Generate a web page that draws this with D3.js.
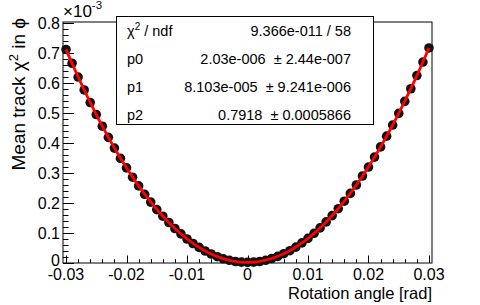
<!DOCTYPE html>
<html>
<head>
<meta charset="utf-8">
<script src="https://cdn.jsdelivr.net/npm/d3@7"></script>
<style>
  body { margin: 0; background: #fff; }
  svg text { font-family: "Liberation Sans", Arial, Helvetica, sans-serif; fill: #000; }
</style>
</head>
<body>
<div id="chart"></div>
<script>
"use strict"

// Mean track chi2 vs rotation angle, with quadratic fit (ROOT style)

var angles = [
  -0.030, -0.029, -0.028, -0.027, -0.026, -0.025, -0.024, -0.023, -0.022, -0.021,
  -0.020, -0.019, -0.018, -0.017, -0.016, -0.015, -0.014, -0.013, -0.012, -0.011,
  -0.010, -0.009, -0.008, -0.007, -0.006, -0.005, -0.004, -0.003, -0.002, -0.001,
  0.000, 0.001, 0.002, 0.003, 0.004, 0.005, 0.006, 0.007, 0.008, 0.009,
  0.010, 0.011, 0.012, 0.013, 0.014, 0.015, 0.016, 0.017, 0.018, 0.019,
  0.020, 0.021, 0.022, 0.023, 0.024, 0.025, 0.026, 0.027, 0.028, 0.029, 0.030
]

// mean chi2, in units of 1e-3
var meanChi2 = [
  0.712, 0.666, 0.620, 0.577, 0.535, 0.495, 0.456, 0.419, 0.383, 0.349,
  0.317, 0.286, 0.257, 0.229, 0.203, 0.178, 0.156, 0.135, 0.115, 0.097,
  0.080, 0.065, 0.052, 0.040, 0.030, 0.021, 0.014, 0.009, 0.005, 0.003,
  0.002, 0.003, 0.005, 0.009, 0.015, 0.022, 0.031, 0.041, 0.053, 0.067,
  0.082, 0.099, 0.117, 0.137, 0.158, 0.181, 0.206, 0.232, 0.260, 0.290,
  0.320, 0.353, 0.387, 0.423, 0.460, 0.499, 0.539, 0.581, 0.625, 0.670, 0.717
]

var xTicks = [-0.03, -0.02, -0.01, 0, 0.01, 0.02, 0.03]
var xTickLabels = ["-0.03", "-0.02", "-0.01", "0", "0.01", "0.02", "0.03"]
var yTicks = [0, 0.1, 0.2, 0.3, 0.4, 0.5, 0.6, 0.7, 0.8]
var yTickLabels = ["0", "0.1", "0.2", "0.3", "0.4", "0.5", "0.6", "0.7", "0.8"]

// fit parameters (y = p0 + p1*x + p2*x^2)
var fitParams = [2.03e-6, 8.103e-5, 0.7918]
var statNames = ["p0", "p1", "p2"]
var statValues = [
  "9.366e-011 / 58",
  "2.03e-006  \u00b1 2.44e-007",
  "8.103e-005  \u00b1 9.241e-006",
  "0.7918  \u00b1 0.0005866"
]

var width = 480
var height = 305
var frame = { left: 63, right: 432, top: 22, bottom: 263 }

var svg = d3.select("#chart").append("svg")
  .attr("width", width)
  .attr("height", height)

var x = d3.scaleLinear()
  .domain([-0.0305, 0.0305])
  .range([frame.left, frame.right])

var y = d3.scaleLinear()
  .domain([0, 0.8035])
  .range([frame.bottom, frame.top])

// frame
svg.append("rect")
  .attr("x", frame.left)
  .attr("y", frame.top)
  .attr("width", frame.right - frame.left)
  .attr("height", frame.bottom - frame.top)
  .attr("fill", "none")
  .attr("stroke", "#000")
  .attr("stroke-width", 1)

// x axis ticks (inward, upward)
var xMinor = d3.range(-15, 16).map(function(i) { return i * 0.002 })
svg.append("g").selectAll("line")
  .data(xMinor)
  .enter().append("line")
    .attr("x1", function(d) { return Math.round(x(d)) + 0.5 })
    .attr("x2", function(d) { return Math.round(x(d)) + 0.5 })
    .attr("y1", frame.bottom)
    .attr("y2", function(d, i) { return frame.bottom - (i % 5 === 0 ? 7.5 : 3.8) })
    .attr("stroke", "#000")

svg.append("g").selectAll("text")
  .data(xTicks)
  .enter().append("text")
    .attr("x", function(d) { return x(d) })
    .attr("y", 280)
    .attr("text-anchor", "middle")
    .style("font-size", "16px")
    .text(function(d, i) { return xTickLabels[i] })

// y axis ticks (inward, rightward)
var yMinor = d3.range(0, 41).map(function(i) { return i * 0.02 })
svg.append("g").selectAll("line")
  .data(yMinor)
  .enter().append("line")
    .attr("y1", function(d) { return Math.round(y(d)) + 0.5 })
    .attr("y2", function(d) { return Math.round(y(d)) + 0.5 })
    .attr("x1", frame.left)
    .attr("x2", function(d, i) { return frame.left + (i % 5 === 0 ? 11 : 5.5) })
    .attr("stroke", "#000")

svg.append("g").selectAll("text")
  .data(yTicks)
  .enter().append("text")
    .attr("x", 60)
    .attr("y", function(d) { return y(d) - (d === 0 ? 3 : 0) })
    .attr("dy", "0.36em")
    .attr("text-anchor", "end")
    .style("font-size", "16px")
    .text(function(d, i) { return yTickLabels[i] })

// exponent label
var expo = svg.append("text")
  .attr("x", 63)
  .attr("y", 17)
  .style("font-size", "17px")
expo.append("tspan").text("\u00d710")
expo.append("tspan")
  .attr("dy", -8)
  .style("font-size", "11.5px")
  .text("-3")

// axis titles
svg.append("text")
  .attr("x", frame.right)
  .attr("y", 299)
  .attr("text-anchor", "end")
  .style("font-size", "16.5px")
  .text("Rotation angle [rad]")

var ytitle = svg.append("text")
  .attr("transform", "translate(25," + 18 + ") rotate(-90)")
  .attr("text-anchor", "end")
  .style("font-size", "19px")
ytitle.append("tspan").text("Mean track \u03c7")
ytitle.append("tspan")
  .attr("dy", -7)
  .style("font-size", "13px")
  .text("2")
ytitle.append("tspan")
  .attr("dy", 7)
  .text(" in \u03d5")

// data points
svg.append("g").selectAll("circle")
  .data(angles)
  .enter().append("circle")
    .attr("cx", function(d) { return x(d) })
    .attr("cy", function(d, i) { return y(meanChi2[i]) })
    .attr("r", 4.8)
    .attr("fill", "#111")

// fit function
var fit = function(a) {
  return (fitParams[0] + fitParams[1] * a + fitParams[2] * a * a) * 1e3
}
var fitLine = d3.line()
  .x(function(d) { return x(d) })
  .y(function(d) { return y(fit(d)) })

svg.append("path")
  .datum(d3.range(0, 101).map(function(i) { return -0.03 + i * 0.0006 }))
  .attr("d", fitLine)
  .attr("fill", "none")
  .attr("stroke", "#ff0000")
  .attr("stroke-width", 2.8)

// stats box
var box = { left: 116.5, right: 373.5, top: 16.5, bottom: 124.5 }
svg.append("rect")
  .attr("x", box.left)
  .attr("y", box.top)
  .attr("width", box.right - box.left)
  .attr("height", box.bottom - box.top)
  .attr("fill", "#fff")
  .attr("stroke", "#000")

var rowBaseline = [36, 64, 92, 120]
var boxFont = "14.5px"

var chiLabel = svg.append("text")
  .attr("x", 127)
  .attr("y", rowBaseline[0])
  .style("font-size", boxFont)
chiLabel.append("tspan").text("\u03c7")
chiLabel.append("tspan")
  .attr("dy", -6)
  .style("font-size", "10px")
  .text("2")
chiLabel.append("tspan")
  .attr("dy", 6)
  .text(" / ndf")

svg.append("g").selectAll("text")
  .data(statNames)
  .enter().append("text")
    .attr("x", 127)
    .attr("y", function(d, i) { return rowBaseline[i + 1] })
    .style("font-size", boxFont)
    .text(function(d) { return d })

svg.append("g").selectAll("text")
  .data(statValues)
  .enter().append("text")
    .attr("x", 351)
    .attr("y", function(d, i) { return rowBaseline[i] })
    .attr("text-anchor", "end")
    .attr("xml:space", "preserve")
    .style("white-space", "pre")
    .style("font-size", boxFont)
    .text(function(d) { return d })
</script>
</body>
</html>
